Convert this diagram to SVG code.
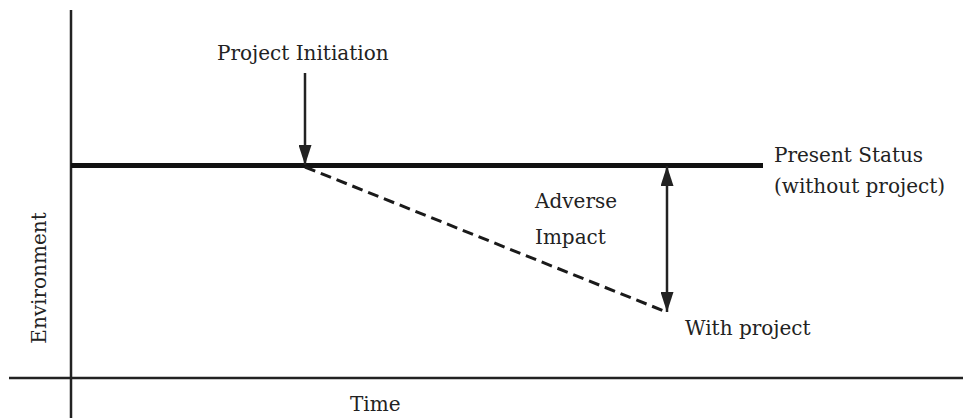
<svg xmlns="http://www.w3.org/2000/svg" width="963" height="418" viewBox="0 0 963 418">
<style>
text{font-family:"DejaVu Serif","Liberation Serif",serif;font-size:20px;fill:#222}
.ax{stroke:#222;stroke-width:2.5;fill:none}
.thin{stroke:#222;stroke-width:2.5;fill:none}
.dash{stroke:#1a1a1a;stroke-width:3;fill:none;stroke-dasharray:11 6}
.base{stroke:#111;stroke-width:5;fill:none}
</style>
<defs>
<marker id="ah" viewBox="0 0 20 13" refX="20" refY="6.5" markerWidth="20" markerHeight="13" markerUnits="userSpaceOnUse" orient="auto">
<path d="M0,0 L20,6.5 L0,13 Z" fill="#222"/>
</marker>
<marker id="ahs" viewBox="0 0 20 13" refX="0" refY="6.5" markerWidth="20" markerHeight="13" markerUnits="userSpaceOnUse" orient="auto">
<path d="M20,0 L0,6.5 L20,13 Z" fill="#222"/>
</marker>
</defs>
<g id="axes">
<line class="ax" x1="71" y1="10" x2="71" y2="418"/>
<line class="ax" x1="9" y1="378" x2="963" y2="378"/>
</g>
<g id="connectors">
<line class="base" x1="71" y1="165.5" x2="763" y2="165.5"/>
<line class="thin" x1="305" y1="73" x2="305" y2="165" marker-end="url(#ah)"/>
<line class="dash" x1="305" y1="167" x2="664" y2="311"/>
<line class="thin" x1="667" y1="166" x2="667" y2="312" marker-start="url(#ahs)" marker-end="url(#ah)"/>
</g>
<g id="label-initiation"><text x="217" y="60">Project Initiation</text></g>
<g id="label-present"><text x="774" y="162">Present Status</text><text x="774" y="193">(without project)</text></g>
<g id="label-adverse"><text x="535" y="208">Adverse</text><text x="535" y="244">Impact</text></g>
<g id="label-with"><text x="685" y="335">With project</text></g>
<g id="label-time"><text x="350" y="411">Time</text></g>
<g id="label-env"><text transform="translate(46,278) rotate(-90)" text-anchor="middle">Environment</text></g>
</svg>
